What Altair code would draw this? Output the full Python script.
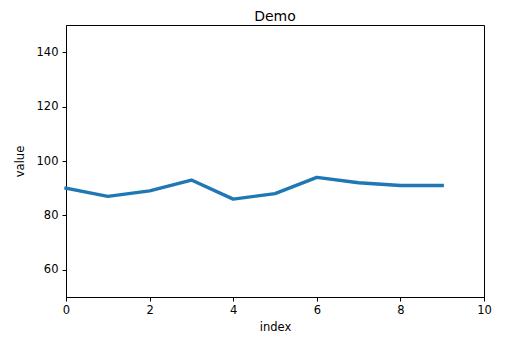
import altair as alt
import pandas as pd

index = [0, 1, 2, 3, 4, 5, 6, 7, 8, 9]
value = [90, 87, 89, 93, 86, 88, 94, 92, 91, 91]
x_ticks = [0, 2, 4, 6, 8, 10]
y_ticks = [60, 80, 100, 120, 140]

df = pd.DataFrame({"index": index, "value": value})

FONT = "DejaVu Sans"

axis_common = dict(
    grid=False,
    domainColor="#000000",
    domainWidth=1,
    tickColor="#000000",
    tickSize=4,
    tickWidth=1,
    labelFont=FONT,
    labelFontSize=11.5,
    labelColor="#000000",
    titleFont=FONT,
    titleFontSize=11.5,
    titleFontWeight="normal",
    titleColor="#000000",
)

chart = (
    alt.Chart(df)
    .mark_line(color="#1f77b4", strokeWidth=3.4, strokeCap="square", strokeJoin="round")
    .encode(
        x=alt.X(
            "index:Q",
            scale=alt.Scale(domain=[0, 10], nice=False, zero=False),
            axis=alt.Axis(values=x_ticks, title="index", labelPadding=3,
                          titlePadding=6, labelFlush=False, **axis_common),
        ),
        y=alt.Y(
            "value:Q",
            scale=alt.Scale(domain=[50, 150], nice=False, zero=False),
            axis=alt.Axis(values=y_ticks, title="value", labelPadding=4,
                          titlePadding=11, labelFlush=False, **axis_common),
        ),
    )
    .properties(
        width=418,
        height=272,
        autosize="none",
        padding={"left": 66, "top": 25, "right": 39, "bottom": 50},
        background="white",
        title=alt.TitleParams(
            "Demo", font=FONT, fontSize=14, fontWeight="normal",
            color="#000000", anchor="middle", baseline="bottom", offset=3,
            dy=16,
        ),
    )
    .configure_view(stroke="#000000", strokeWidth=1)
)

chart.save("out.html", embed_options={"renderer": "svg", "actions": False})
